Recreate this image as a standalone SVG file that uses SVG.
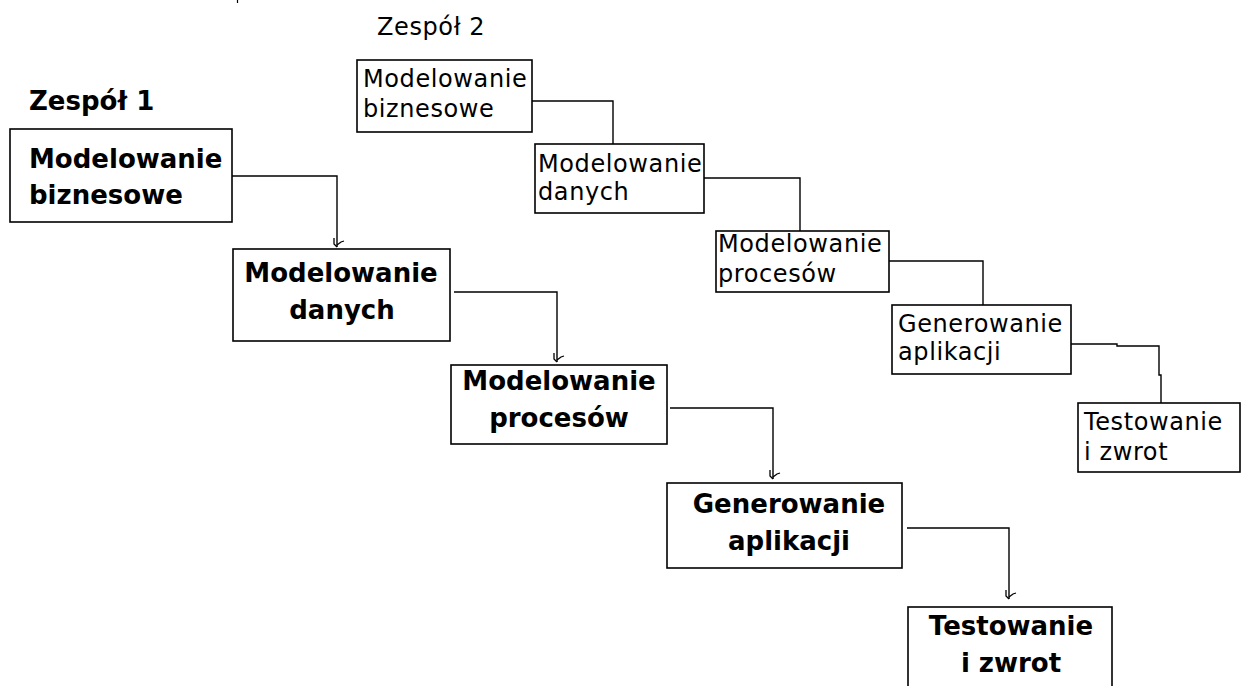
<svg xmlns="http://www.w3.org/2000/svg" width="1242" height="686" viewBox="0 0 1242 686">
  <style>
    .box { fill: #fff; stroke: #000; stroke-width: 1.6; }
    .con { fill: none; stroke: #000; stroke-width: 1.4; }
    .t1 { font-family: "DejaVu Sans", "Liberation Sans", sans-serif; font-weight: bold; font-size: 26px; fill: #000; }
    .t1c { text-anchor: middle; }
    .t2 { font-family: "DejaVu Sans", "Liberation Sans", sans-serif; font-size: 24px; letter-spacing: 0.6px; fill: #000; }
  </style>
  <defs>
    <marker id="arr" markerUnits="userSpaceOnUse" markerWidth="20" markerHeight="20" viewBox="-10 -10 20 20" refX="0" refY="0" orient="0">
      <path d="M-3,-9 L-3,-3 L0,0 M0,-2 L4,-5 L7,-6" fill="none" stroke="#000" stroke-width="1.3"/>
    </marker>
  </defs>
  <rect width="1242" height="686" fill="#fff"/>
  <line x1="237.5" y1="0" x2="237.5" y2="3" stroke="#000" stroke-width="1.2"/>

  <text class="t1" x="29" y="110">Zespół 1</text>
  <text class="t2" x="377" y="35">Zespół 2</text>

  <g id="connectors">
    <polyline class="con" points="232,176 337,176 337,247" marker-end="url(#arr)"/>
    <polyline class="con" points="454,292 557,292 557,362" marker-end="url(#arr)"/>
    <polyline class="con" points="670,408 773,408 773,479" marker-end="url(#arr)"/>
    <polyline class="con" points="907,528 1009,528 1009,599" marker-end="url(#arr)"/>
    <polyline class="con" points="529,101 613,101 613,144"/>
    <polyline class="con" points="704,178 800,178 800,231"/>
    <polyline class="con" points="889,261 983,261 983,305"/>
    <polyline class="con" points="1071,344 1117,344 1117,346 1159,346 1159,375 1161,375 1161,403"/>
  </g>

  <g id="z1-biznesowe">
    <rect class="box" x="10" y="129" width="222" height="93"/>
    <text class="t1" x="29" y="168">Modelowanie</text>
    <text class="t1" x="29" y="204">biznesowe</text>
  </g>
  <g id="z1-danych">
    <rect class="box" x="233" y="249" width="217" height="92"/>
    <text class="t1 t1c" x="341" y="282">Modelowanie</text>
    <text class="t1 t1c" x="342" y="319">danych</text>
  </g>
  <g id="z1-procesow">
    <rect class="box" x="451" y="365" width="216" height="79"/>
    <text class="t1 t1c" x="559" y="390">Modelowanie</text>
    <text class="t1 t1c" x="559" y="427">procesów</text>
  </g>
  <g id="z1-generowanie">
    <rect class="box" x="667" y="483" width="235" height="85"/>
    <text class="t1 t1c" x="789" y="513">Generowanie</text>
    <text class="t1 t1c" x="789" y="550">aplikacji</text>
  </g>
  <g id="z1-testowanie">
    <rect class="box" x="908" y="607" width="204" height="100"/>
    <text class="t1 t1c" x="1011" y="635">Testowanie</text>
    <text class="t1 t1c" x="1011" y="672">i zwrot</text>
  </g>

  <g id="z2-biznesowe">
    <rect class="box" x="357" y="60" width="175" height="72"/>
    <text class="t2" x="363" y="87">Modelowanie</text>
    <text class="t2" x="363" y="117">biznesowe</text>
  </g>
  <g id="z2-danych">
    <rect class="box" x="535" y="144" width="169" height="69"/>
    <text class="t2" x="538" y="172">Modelowanie</text>
    <text class="t2" x="538" y="200">danych</text>
  </g>
  <g id="z2-procesow">
    <rect class="box" x="716" y="231" width="173" height="61"/>
    <text class="t2" x="718" y="252">Modelowanie</text>
    <text class="t2" x="718" y="282">procesów</text>
  </g>
  <g id="z2-generowanie">
    <rect class="box" x="892" y="305" width="179" height="69"/>
    <text class="t2" x="898" y="332">Generowanie</text>
    <text class="t2" x="898" y="360">aplikacji</text>
  </g>
  <g id="z2-testowanie">
    <rect class="box" x="1078" y="403" width="162" height="69"/>
    <text class="t2" x="1084" y="430">Testowanie</text>
    <text class="t2" x="1084" y="460">i zwrot</text>
  </g>
</svg>
